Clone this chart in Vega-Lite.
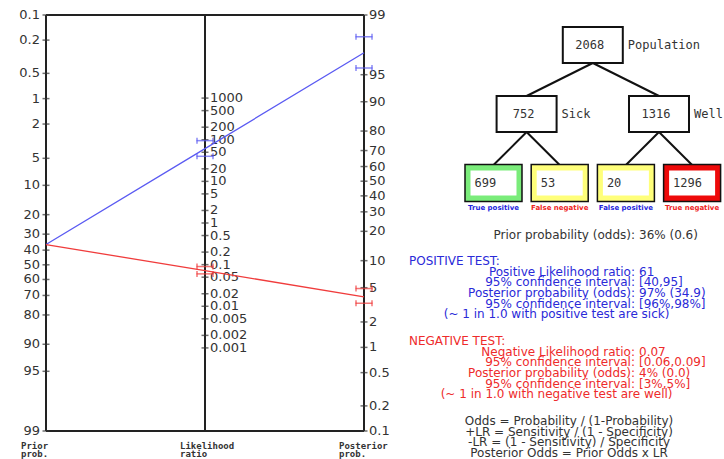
{
  "$schema": "https://vega.github.io/schema/vega-lite/v6.json",
  "width": 724,
  "height": 459,
  "autosize": {"type": "fit", "contains": "padding"},
  "padding": 0,
  "background": "white",
  "config": {"view": {"stroke": null}, "text": {"font": "DejaVu Sans"}},
  "datasets": {
    "axes": [{"axis": "prior"}, {"axis": "lr"}, {"axis": "post"}],
    "frame": [{"axis": "prior", "v": 0.1}, {"axis": "prior", "v": 99}],
    "ticks": [
      {"axis": "prior", "v": 0.1}, {"axis": "prior", "v": 0.2}, {"axis": "prior", "v": 0.5}, {"axis": "prior", "v": 1}, {"axis": "prior", "v": 2}, {"axis": "prior", "v": 5}, {"axis": "prior", "v": 10}, {"axis": "prior", "v": 20}, {"axis": "prior", "v": 30}, {"axis": "prior", "v": 40}, {"axis": "prior", "v": 50}, {"axis": "prior", "v": 60}, {"axis": "prior", "v": 70}, {"axis": "prior", "v": 80}, {"axis": "prior", "v": 90}, {"axis": "prior", "v": 95}, {"axis": "prior", "v": 99},
      {"axis": "lr", "v": 1000}, {"axis": "lr", "v": 500}, {"axis": "lr", "v": 200}, {"axis": "lr", "v": 100}, {"axis": "lr", "v": 50}, {"axis": "lr", "v": 20}, {"axis": "lr", "v": 10}, {"axis": "lr", "v": 5}, {"axis": "lr", "v": 2}, {"axis": "lr", "v": 1}, {"axis": "lr", "v": 0.5}, {"axis": "lr", "v": 0.2}, {"axis": "lr", "v": 0.1}, {"axis": "lr", "v": 0.05}, {"axis": "lr", "v": 0.02}, {"axis": "lr", "v": 0.01}, {"axis": "lr", "v": 0.005}, {"axis": "lr", "v": 0.002}, {"axis": "lr", "v": 0.001},
      {"axis": "post", "v": 99}, {"axis": "post", "v": 95}, {"axis": "post", "v": 90}, {"axis": "post", "v": 80}, {"axis": "post", "v": 70}, {"axis": "post", "v": 60}, {"axis": "post", "v": 50}, {"axis": "post", "v": 40}, {"axis": "post", "v": 30}, {"axis": "post", "v": 20}, {"axis": "post", "v": 10}, {"axis": "post", "v": 5}, {"axis": "post", "v": 2}, {"axis": "post", "v": 1}, {"axis": "post", "v": 0.5}, {"axis": "post", "v": 0.2}, {"axis": "post", "v": 0.1}
    ],
    "lines": [
      {"test": "positive", "axis": "prior", "v": 36.36},
      {"test": "positive", "axis": "lr", "v": 61},
      {"test": "positive", "axis": "post", "v": 97.21},
      {"test": "negative", "axis": "prior", "v": 36.36},
      {"test": "negative", "axis": "lr", "v": 0.0716},
      {"test": "negative", "axis": "post", "v": 3.93}
    ],
    "ci": [
      {"test": "positive", "axis": "lr", "v": 40},
      {"test": "positive", "axis": "lr", "v": 95},
      {"test": "positive", "axis": "post", "v": 95.81},
      {"test": "positive", "axis": "post", "v": 98.19},
      {"test": "negative", "axis": "lr", "v": 0.06},
      {"test": "negative", "axis": "lr", "v": 0.09},
      {"test": "negative", "axis": "post", "v": 3.31},
      {"test": "negative", "axis": "post", "v": 4.89}
    ],
    "footer": [
      {"axis": "prior", "text": "Prior\nprob."},
      {"axis": "lr", "text": "Likelihood\nratio"},
      {"axis": "post", "text": "Posterior\nprob."}
    ],
    "nodes": [
      {"id": "pop", "count": 2068, "label": "Population", "col": 1.5, "level": 0},
      {"id": "sick", "count": 752, "label": "Sick", "col": 0.5, "level": 1, "parent": "pop"},
      {"id": "well", "count": 1316, "label": "Well", "col": 2.5, "level": 1, "parent": "pop"},
      {"id": "tp", "count": 699, "label": "True positive", "col": 0, "level": 2, "parent": "sick", "test": "positive", "cell": "TP"},
      {"id": "fn", "count": 53, "label": "False negative", "col": 1, "level": 2, "parent": "sick", "test": "negative", "cell": "FN"},
      {"id": "fp", "count": 20, "label": "False positive", "col": 2, "level": 2, "parent": "well", "test": "positive", "cell": "FP"},
      {"id": "tn", "count": 1296, "label": "True negative", "col": 3, "level": 2, "parent": "well", "test": "negative", "cell": "TN"}
    ],
    "report": [
      {"line": 0, "part": "key", "group": "prior", "text": "Prior probability (odds):"},
      {"line": 0, "part": "value", "group": "prior", "text": "36% (0.6)"},
      {"line": 2.5, "part": "heading", "group": "positive", "text": "POSITIVE TEST:"},
      {"line": 3.5, "part": "key", "group": "positive", "text": "Positive Likelihood ratio:"},
      {"line": 3.5, "part": "value", "group": "positive", "text": "61"},
      {"line": 4.5, "part": "key", "group": "positive", "text": "95% confidence interval:"},
      {"line": 4.5, "part": "value", "group": "positive", "text": "[40,95]"},
      {"line": 5.5, "part": "key", "group": "positive", "text": "Posterior probability (odds):"},
      {"line": 5.5, "part": "value", "group": "positive", "text": "97% (34.9)"},
      {"line": 6.5, "part": "key", "group": "positive", "text": "95% confidence interval:"},
      {"line": 6.5, "part": "value", "group": "positive", "text": "[96%,98%]"},
      {"line": 7.5, "part": "note", "group": "positive", "text": "(~ 1 in 1.0 with positive test are sick)"},
      {"line": 10, "part": "heading", "group": "negative", "text": "NEGATIVE TEST:"},
      {"line": 11, "part": "key", "group": "negative", "text": "Negative Likelihood ratio:"},
      {"line": 11, "part": "value", "group": "negative", "text": "0.07"},
      {"line": 12, "part": "key", "group": "negative", "text": "95% confidence interval:"},
      {"line": 12, "part": "value", "group": "negative", "text": "[0.06,0.09]"},
      {"line": 13, "part": "key", "group": "negative", "text": "Posterior probability (odds):"},
      {"line": 13, "part": "value", "group": "negative", "text": "4% (0.0)"},
      {"line": 14, "part": "key", "group": "negative", "text": "95% confidence interval:"},
      {"line": 14, "part": "value", "group": "negative", "text": "[3%,5%]"},
      {"line": 15, "part": "note", "group": "negative", "text": "(~ 1 in 1.0 with negative test are well)"},
      {"line": 17.5, "part": "formula", "group": "formula", "text": "Odds = Probability / (1-Probability)"},
      {"line": 18.5, "part": "formula", "group": "formula", "text": "+LR = Sensitivity / (1 - Specificity)"},
      {"line": 19.5, "part": "formula", "group": "formula", "text": "-LR = (1 - Sensitivity) / Specificity"},
      {"line": 20.5, "part": "formula", "group": "formula", "text": "Posterior Odds = Prior Odds x LR"}
    ]
  },
  "layer": [
    {
      "layer": [
        {
          "data": {"name": "frame"},
          "transform": [
            {"calculate": "log(datum.v/(100-datum.v))", "as": "u"}
          ],
          "mark": {"type": "rule", "color": "#222222", "strokeWidth": 2},
          "encoding": {
            "x": {"datum": 0, "type": "quantitative", "scale": {"domain": [-0.28931, 4.26415], "nice": false, "zero": false}, "axis": null},
            "x2": {"datum": 2},
            "y": {"field": "u", "type": "quantitative", "scale": {"domain": [-7.3215, 5.3694], "reverse": true, "nice": false, "zero": false}, "axis": null}
          }
        },
        {
          "data": {"name": "axes"},
          "transform": [
            {"calculate": "datum.axis === 'prior' ? 0 : datum.axis === 'lr' ? 1 : 2", "as": "pos"}
          ],
          "mark": {"type": "rule", "color": "#222222", "strokeWidth": 2},
          "encoding": {
            "x": {"field": "pos", "type": "quantitative", "scale": {"domain": [-0.28931, 4.26415], "nice": false, "zero": false}, "axis": null},
            "y": {"datum": -6.9068, "type": "quantitative", "scale": {"domain": [-7.3215, 5.3694], "reverse": true, "nice": false, "zero": false}, "axis": null},
            "y2": {"datum": 4.5951}
          }
        },
        {
          "data": {"name": "ticks"},
          "transform": [
            {"calculate": "datum.axis === 'prior' ? 0 : datum.axis === 'lr' ? 1 : 2", "as": "pos"},
            {"calculate": "datum.axis === 'prior' ? log(datum.v/(100-datum.v)) : datum.axis === 'post' ? log(0.1/99.9) + log(99) - log(datum.v/(100-datum.v)) : (log(0.1/99.9) + log(99))/2 - log(datum.v)/2", "as": "u"}
          ],
          "layer": [
            {
              "mark": {"type": "tick", "orient": "horizontal", "size": 7, "thickness": 1.5, "color": "#333333"},
              "encoding": {
                "x": {"field": "pos", "type": "quantitative", "scale": {"domain": [-0.28931, 4.26415], "nice": false, "zero": false}, "axis": null},
                "y": {"field": "u", "type": "quantitative", "scale": {"domain": [-7.3215, 5.3694], "reverse": true, "nice": false, "zero": false}, "axis": null}
              }
            },
            {
              "transform": [{"filter": "datum.axis === 'prior'"}],
              "mark": {"type": "text", "align": "right", "baseline": "middle", "dx": -6, "fontSize": 13, "color": "#333333"},
              "encoding": {
                "x": {"field": "pos", "type": "quantitative", "scale": {"domain": [-0.28931, 4.26415], "nice": false, "zero": false}, "axis": null},
                "y": {"field": "u", "type": "quantitative", "scale": {"domain": [-7.3215, 5.3694], "reverse": true, "nice": false, "zero": false}, "axis": null},
                "text": {"field": "v", "type": "nominal"}
              }
            },
            {
              "transform": [{"filter": "datum.axis !== 'prior'"}],
              "mark": {"type": "text", "align": "left", "baseline": "middle", "dx": 5, "fontSize": 13, "color": "#333333"},
              "encoding": {
                "x": {"field": "pos", "type": "quantitative", "scale": {"domain": [-0.28931, 4.26415], "nice": false, "zero": false}, "axis": null},
                "y": {"field": "u", "type": "quantitative", "scale": {"domain": [-7.3215, 5.3694], "reverse": true, "nice": false, "zero": false}, "axis": null},
                "text": {"field": "v", "type": "nominal"}
              }
            }
          ]
        },
        {
          "data": {"name": "footer"},
          "transform": [
            {"calculate": "datum.axis === 'prior' ? 0 : datum.axis === 'lr' ? 1 : 2", "as": "pos"}
          ],
          "mark": {"type": "text", "align": "left", "baseline": "top", "dx": -25, "dy": 11, "font": "DejaVu Sans Mono", "fontWeight": "bold", "fontSize": 9, "lineHeight": 8, "lineBreak": "\n", "color": "#333333"},
          "encoding": {
            "x": {"field": "pos", "type": "quantitative", "scale": {"domain": [-0.28931, 4.26415], "nice": false, "zero": false}, "axis": null},
            "y": {"datum": 4.5951, "type": "quantitative", "scale": {"domain": [-7.3215, 5.3694], "reverse": true, "nice": false, "zero": false}, "axis": null},
            "text": {"field": "text", "type": "nominal"}
          }
        },
        {
          "data": {"name": "lines"},
          "transform": [
            {"calculate": "datum.axis === 'prior' ? 0 : datum.axis === 'lr' ? 1 : 2", "as": "pos"},
            {"calculate": "datum.axis === 'prior' ? log(datum.v/(100-datum.v)) : datum.axis === 'post' ? log(0.1/99.9) + log(99) - log(datum.v/(100-datum.v)) : (log(0.1/99.9) + log(99))/2 - log(datum.v)/2", "as": "u"}
          ],
          "mark": {"type": "line", "strokeWidth": 1.3},
          "encoding": {
            "x": {"field": "pos", "type": "quantitative", "scale": {"domain": [-0.28931, 4.26415], "nice": false, "zero": false}, "axis": null},
            "y": {"field": "u", "type": "quantitative", "scale": {"domain": [-7.3215, 5.3694], "reverse": true, "nice": false, "zero": false}, "axis": null},
            "color": {"field": "test", "type": "nominal", "scale": {"domain": ["positive", "negative"], "range": ["#5a5af2", "#f03c3c"]}, "legend": null},
            "order": {"field": "pos", "type": "quantitative"}
          }
        },
        {
          "data": {"name": "ci"},
          "transform": [
            {"calculate": "datum.axis === 'prior' ? 0 : datum.axis === 'lr' ? 1 : 2", "as": "pos"},
            {"calculate": "datum.axis === 'prior' ? log(datum.v/(100-datum.v)) : datum.axis === 'post' ? log(0.1/99.9) + log(99) - log(datum.v/(100-datum.v)) : (log(0.1/99.9) + log(99))/2 - log(datum.v)/2", "as": "u"}
          ],
          "encoding": {
            "x": {"field": "pos", "type": "quantitative", "scale": {"domain": [-0.28931, 4.26415], "nice": false, "zero": false}, "axis": null},
            "y": {"field": "u", "type": "quantitative", "scale": {"domain": [-7.3215, 5.3694], "reverse": true, "nice": false, "zero": false}, "axis": null},
            "color": {"field": "test", "type": "nominal", "scale": {"domain": ["positive", "negative"], "range": ["#5a5af2", "#f03c3c"]}, "legend": null}
          },
          "layer": [
            {"mark": {"type": "tick", "orient": "horizontal", "size": 17, "thickness": 1.5}},
            {"mark": {"type": "tick", "orient": "vertical", "size": 6, "thickness": 1.5, "xOffset": -8}},
            {"mark": {"type": "tick", "orient": "vertical", "size": 6, "thickness": 1.5, "xOffset": 8}}
          ]
        }
      ]
    },
    {
      "layer": [
        {
          "data": {"name": "nodes"},
          "transform": [
            {"filter": "datum.parent != null"},
            {"lookup": "parent", "from": {"data": {"name": "nodes"}, "key": "id", "fields": ["col", "level"]}, "as": ["pcol", "plevel"]}
          ],
          "mark": {"type": "rule", "color": "#111111", "strokeWidth": 2, "yOffset": 18, "y2Offset": -18},
          "encoding": {
            "x": {"field": "pcol", "type": "quantitative", "scale": {"domain": [-7.4547, 3.4819], "nice": false, "zero": false}, "axis": null},
            "y": {"field": "plevel", "type": "quantitative", "scale": {"domain": [-0.65217, 6.0], "reverse": true, "nice": false, "zero": false}, "axis": null},
            "x2": {"field": "col"},
            "y2": {"field": "level"}
          }
        },
        {
          "data": {"name": "nodes"},
          "encoding": {
            "x": {"field": "col", "type": "quantitative", "scale": {"domain": [-7.4547, 3.4819], "nice": false, "zero": false}, "axis": null},
            "y": {"field": "level", "type": "quantitative", "scale": {"domain": [-0.65217, 6.0], "reverse": true, "nice": false, "zero": false}, "axis": null}
          },
          "layer": [
            {
              "transform": [{"filter": "datum.level < 2"}],
              "mark": {"type": "rect", "width": 60, "height": 36, "fill": "white", "stroke": "#111111", "strokeWidth": 2}
            },
            {
              "transform": [{"filter": "datum.level == 2"}],
              "mark": {"type": "rect", "width": 57, "height": 37, "stroke": "#111111", "strokeWidth": 1.5, "clip": true},
              "encoding": {
                "fill": {"field": "cell", "type": "nominal", "scale": {"domain": ["TP", "FN", "FP", "TN"], "range": ["#7aec7a", "#ffff7a", "#ffff7a", "#ee0a0a"]}, "legend": null}
              }
            },
            {
              "transform": [{"filter": "datum.level == 2"}],
              "mark": {"type": "rect", "width": 46, "height": 25, "fill": "white"}
            },
            {
              "transform": [{"filter": "datum.level < 2"}],
              "mark": {"type": "text", "align": "center", "baseline": "middle", "dx": -3, "font": "DejaVu Sans Mono", "fontSize": 12, "color": "#333333"},
              "encoding": {"text": {"field": "count", "type": "nominal"}}
            },
            {
              "transform": [{"filter": "datum.level == 2"}],
              "mark": {"type": "text", "align": "left", "baseline": "middle", "dx": -19, "font": "DejaVu Sans Mono", "fontSize": 12, "color": "#333333"},
              "encoding": {"text": {"field": "count", "type": "nominal"}}
            },
            {
              "transform": [{"filter": "datum.level < 2"}],
              "mark": {"type": "text", "align": "left", "baseline": "middle", "dx": 35, "font": "DejaVu Sans Mono", "fontSize": 12, "color": "#333333", "clip": true},
              "encoding": {"text": {"field": "label", "type": "nominal"}}
            },
            {
              "transform": [{"filter": "datum.level == 2"}],
              "mark": {"type": "text", "align": "center", "baseline": "middle", "dy": 25, "fontSize": 7, "fontWeight": "bold", "clip": true},
              "encoding": {
                "text": {"field": "label", "type": "nominal"},
                "color": {"field": "test", "type": "nominal", "scale": {"domain": ["positive", "negative"], "range": ["#2424dd", "#ee2424"]}, "legend": null}
              }
            }
          ]
        }
      ]
    },
    {
      "data": {"name": "report"},
      "encoding": {
        "y": {"field": "line", "type": "quantitative", "scale": {"domain": [-22.0188, 21.0798], "reverse": true, "nice": false, "zero": false}, "axis": null},
        "text": {"field": "text", "type": "nominal"},
        "color": {"field": "group", "type": "nominal", "scale": {"domain": ["prior", "positive", "negative", "formula"], "range": ["#333333", "#2a2ad8", "#ee2b2b", "#333333"]}, "legend": null}
      },
      "layer": [
        {
          "transform": [{"filter": "datum.part === 'key'"}],
          "mark": {"type": "text", "align": "right", "baseline": "middle", "dx": -1, "fontSize": 12},
          "encoding": {"x": {"datum": 1, "type": "quantitative", "scale": {"domain": [-1.80176, 1.38767], "nice": false, "zero": false}, "axis": null}}
        },
        {
          "transform": [{"filter": "datum.part === 'value'"}],
          "mark": {"type": "text", "align": "left", "baseline": "middle", "dx": 3, "fontSize": 12, "clip": true},
          "encoding": {"x": {"datum": 1, "type": "quantitative", "scale": {"domain": [-1.80176, 1.38767], "nice": false, "zero": false}, "axis": null}}
        },
        {
          "transform": [{"filter": "datum.part === 'heading'"}],
          "mark": {"type": "text", "align": "left", "baseline": "middle", "fontSize": 12},
          "encoding": {"x": {"datum": 0, "type": "quantitative", "scale": {"domain": [-1.80176, 1.38767], "nice": false, "zero": false}, "axis": null}}
        },
        {
          "transform": [{"filter": "datum.part === 'note'"}],
          "mark": {"type": "text", "align": "center", "baseline": "middle", "fontSize": 12},
          "encoding": {"x": {"datum": 0.65, "type": "quantitative", "scale": {"domain": [-1.80176, 1.38767], "nice": false, "zero": false}, "axis": null}}
        },
        {
          "transform": [{"filter": "datum.part === 'formula'"}],
          "mark": {"type": "text", "align": "center", "baseline": "middle", "fontSize": 12},
          "encoding": {"x": {"datum": 0.705, "type": "quantitative", "scale": {"domain": [-1.80176, 1.38767], "nice": false, "zero": false}, "axis": null}}
        }
      ]
    }
  ],
  "resolve": {"scale": {"x": "independent", "y": "independent", "color": "independent", "fill": "independent"}}
}
